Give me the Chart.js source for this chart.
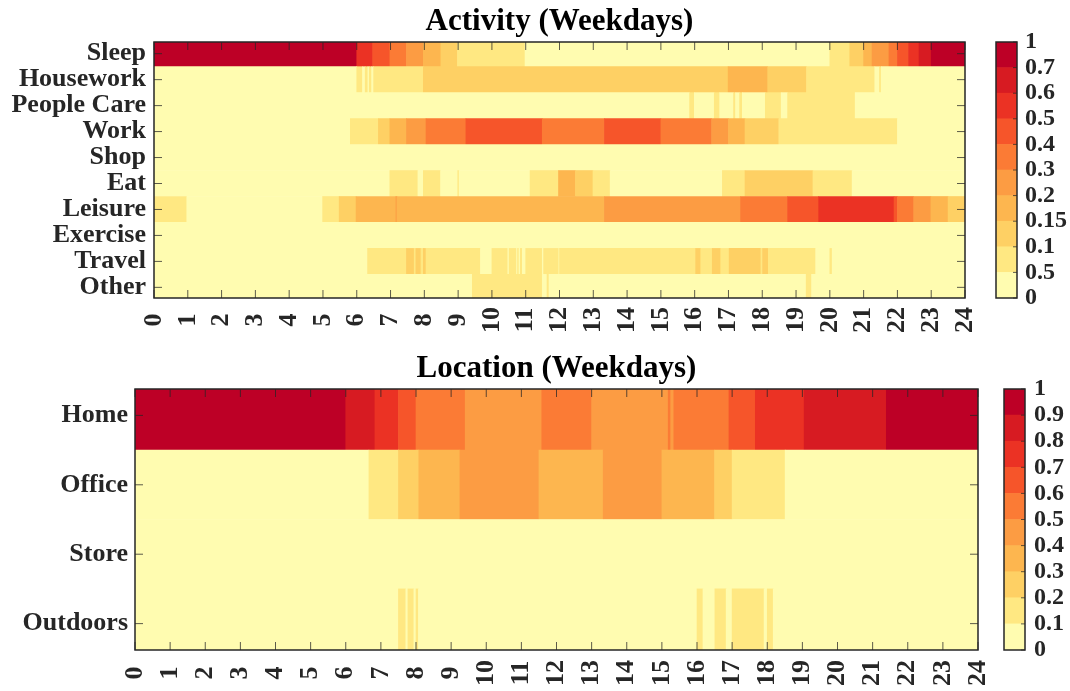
<!DOCTYPE html>
<html>
<head>
<meta charset="utf-8">
<script src="https://cdn.jsdelivr.net/npm/chart.js@4.4.1/dist/chart.umd.min.js"></script>
<style>
  html, body { margin: 0; padding: 0; background: #fff; }
  #wrap { position: relative; width: 1070px; height: 691px; }
  canvas { position: absolute; }
</style>
</head>
<body>
<div id="wrap">
  <canvas id="act" width="1070" height="345" style="left:0;top:0"></canvas>
  <canvas id="actBar" width="95" height="345" style="left:975px;top:0"></canvas>
  <canvas id="loc" width="1070" height="346" style="left:0;top:345px"></canvas>
  <canvas id="locBar" width="85" height="346" style="left:985px;top:345px"></canvas>
</div>
<script>
// colour classes, lightest to darkest
const levelColors = ['#FFFCB0', '#FFE882', '#FED064', '#FDB64F', '#FC9C43', '#FB7B35', '#F6552A', '#EB3224', '#D71B22', '#BD0026'];

const hourLabels = ['0', '1', '2', '3', '4', '5', '6', '7', '8', '9', '10', '11', '12',
  '13', '14', '15', '16', '17', '18', '19', '20', '21', '22', '23', '24'];

const activityRows = ['Sleep', 'Housework', 'People Care', 'Work', 'Shop', 'Eat', 'Leisure', 'Exercise', 'Travel', 'Other'];
const activityBarLabels = ['0', '0.5', '0.1', '0.15', '0.2', '0.3', '0.4', '0.5', '0.6', '0.7', '1'];

const locationRows = ['Home', 'Office', 'Store', 'Outdoors'];
const locationBarLabels = ['0', '0.1', '0.2', '0.3', '0.4', '0.5', '0.6', '0.7', '0.8', '0.9', '1'];

// each row: hour breakpoints and the colour class between them
const sleepT = [0, 6, 6.47, 6.98, 7.47, 7.97, 8.49, 8.98, 10.98, 20, 20.59, 21, 21.25, 21.75, 22, 22.33, 22.64, 23, 24];
const sleepL = [9, 7, 6, 5, 4, 3, 2, 1, 0, 1, 2, 3, 4, 5, 6, 7, 8, 9];
const houseworkT = [0, 6, 6.17, 6.25, 6.33, 6.37, 6.44, 6.5, 7.97, 16.99, 18.16, 19.31, 21.33, 21.47, 21.52, 24];
const houseworkL = [0, 1, 0, 1, 0, 1, 0, 1, 2, 3, 2, 1, 0, 1, 0];
const peopleCareT = [0, 15.85, 15.99, 16.58, 16.74, 17.15, 17.21, 17.33, 17.41, 18.09, 18.56, 18.75, 20.75, 24];
const peopleCareL = [0, 1, 0, 1, 0, 1, 0, 1, 0, 1, 0, 1, 0];
const workT = [0, 5.81, 6.64, 6.98, 7.47, 8.05, 9.23, 11.49, 13.33, 15, 16.5, 17, 17.49, 18.49, 22, 24];
const workL = [0, 1, 2, 3, 4, 5, 6, 5, 6, 5, 4, 3, 2, 1, 0];
const shopT = [0, 24];
const shopL = [0];
const eatT = [0, 6.98, 7.81, 7.97, 8.48, 8.99, 9.03, 11.13, 11.97, 12.47, 12.99, 13.5, 16.82, 17.49, 19.5, 20.66, 24];
const eatL = [0, 1, 0, 1, 0, 1, 0, 1, 3, 2, 1, 0, 1, 2, 1, 0];
const leisureT = [0, 0.97, 4.99, 5.48, 5.98, 7.16, 7.19, 13.33, 17.36, 18.75, 19.67, 21.9, 22, 22.48, 22.99, 23.5, 24];
const leisureL = [1, 0, 1, 2, 3, 4, 3, 4, 5, 6, 7, 6, 5, 4, 3, 2];
const exerciseT = [0, 24];
const exerciseL = [0];
const travelT = [0, 6.32, 7.47, 7.7, 7.75, 7.9, 7.97, 8.05, 9.66, 10, 10.47, 10.51, 10.73, 10.76, 10.8, 10.84, 10.9, 11,
  11.49, 11.53, 11.98, 12, 16.03, 16.18, 16.52, 16.77, 17.02, 17.96, 18.01, 18.18, 19.58, 20, 20.07, 24];
const travelL = [0, 1, 2, 1, 2, 1, 2, 1, 0, 1, 0, 1, 0, 1, 0, 1, 0, 1, 0, 1, 0, 1, 2, 1, 2, 1, 2, 1, 2, 1, 0, 1, 0];
const otherT = [0, 9.42, 11.49, 11.63, 11.69, 19.3, 19.46, 24];
const otherL = [0, 1, 0, 1, 0, 1, 0];

const homeT = [0, 6, 6.83, 7.5, 8, 9.4, 11.58, 13, 15.18, 15.25, 15.34, 16.91, 17.66, 19.05, 21.39, 24];
const homeL = [9, 8, 7, 6, 5, 4, 5, 4, 5, 4, 5, 6, 7, 8, 9];
const officeT = [0, 6.66, 7.5, 8.08, 9.25, 11.5, 13.33, 15, 16.5, 17, 18.51, 24];
const officeL = [0, 1, 2, 3, 4, 3, 4, 3, 2, 1, 0];
const storeT = [0, 24];
const storeL = [0];
const outdoorsT = [0, 7.5, 7.71, 7.77, 7.94, 8, 8.07, 16, 16.17, 16.51, 16.83, 17, 17.91, 18, 18.17, 24];
const outdoorsL = [0, 1, 0, 1, 0, 1, 0, 1, 0, 1, 0, 1, 0, 1, 0];

const FONT = "'Liberation Serif', 'Times New Roman', serif";
const INK = '#262626';

// box, inward ticks and rotated hour labels
const framePlugin = {
  id: 'frame',
  afterDraw(chart, args, o) {
    const {ctx, chartArea: a, scales} = chart;
    const len = o.len || 8;
    ctx.save();
    ctx.strokeStyle = 'rgba(38,38,38,0.75)';
    ctx.lineWidth = 1;
    ctx.beginPath();
    (o.xTicks || []).forEach(v => {
      const px = scales.x.getPixelForValue(v);
      ctx.moveTo(px, a.bottom); ctx.lineTo(px, a.bottom - len);
      ctx.moveTo(px, a.top); ctx.lineTo(px, a.top + len);
    });
    (o.yTicks || []).forEach(v => {
      const py = scales.y.getPixelForValue(v);
      if (o.left !== false) { ctx.moveTo(a.left, py); ctx.lineTo(a.left + len, py); }
      ctx.moveTo(a.right, py); ctx.lineTo(a.right - len, py);
    });
    ctx.stroke();
    ctx.strokeStyle = INK;
    ctx.lineWidth = 1.5;
    ctx.strokeRect(a.left, a.top, a.right - a.left, a.bottom - a.top);
    if (o.xLabels) {
      ctx.fillStyle = INK;
      ctx.font = 'bold ' + o.labelSize + 'px ' + FONT;
      ctx.textAlign = 'center';
      ctx.textBaseline = 'middle';
      o.xLabels.forEach(t => {
        const px = scales.x.getPixelForValue(Number(t));
        ctx.save();
        ctx.translate(px, a.bottom + o.labelOffset);
        ctx.rotate(-Math.PI / 2);
        ctx.fillText(t, 0, 0);
        ctx.restore();
      });
    }
    ctx.restore();
  }
};

function buildSegments(rows) {
  const pts = [], colors = [];
  rows.forEach(([t, l], r) => {
    l.forEach((lv, i) => {
      pts.push({x: [t[i], t[i + 1]], y: r + 1});
      colors.push(levelColors[lv]);
    });
  });
  return {pts, colors};
}

function heatmap(id, cfg) {
  const {pts, colors} = buildSegments(cfg.rows);
  return new Chart(document.getElementById(id), {
    type: 'bar',
    data: {
      datasets: [{
        data: pts,
        backgroundColor: colors,
        borderWidth: 0,
        barPercentage: 1,
        categoryPercentage: 1
      }]
    },
    options: {
      indexAxis: 'y',
      responsive: false,
      animation: false,
      layout: { padding: { right: cfg.padRight } },
      scales: {
        x: {
          type: 'linear', min: 0, max: 24,
          grid: { display: false, drawTicks: false }, border: { display: false },
          ticks: { display: false },
          afterFit: s => { s.height = cfg.xAxisH; }
        },
        y: {
          type: 'linear', reverse: true, offset: false, min: cfg.yMin, max: cfg.yMax,
          grid: { display: false, drawTicks: false }, border: { display: false },
          afterBuildTicks: s => { s.ticks = cfg.labels.map((_, i) => ({value: i + 1})); },
          ticks: {
            autoSkip: false,
            padding: cfg.yPad,
            color: INK,
            font: { family: FONT, size: 26, weight: 'bold' },
            callback: v => cfg.labels[v - 1]
          },
          afterFit: s => { s.width = cfg.yAxisW; }
        }
      },
      plugins: {
        legend: { display: false },
        tooltip: { enabled: false },
        title: {
          display: true,
          fullSize: false,
          text: cfg.title,
          color: '#000',
          font: { family: FONT, size: 31, weight: 'bold', lineHeight: 1.2 },
          padding: cfg.titlePad
        },
        frame: {
          xTicks: hourLabels.map(Number),
          yTicks: cfg.labels.map((_, i) => i + 1),
          xLabels: hourLabels,
          labelSize: 26,
          labelOffset: cfg.labelOffset
        }
      }
    },
    plugins: [framePlugin]
  });
}

function colorbar(id, labels, cfg) {
  return new Chart(document.getElementById(id), {
    type: 'bar',
    data: {
      labels: [''],
      datasets: levelColors.map(c => ({
        data: [1], backgroundColor: c, borderWidth: 0, barPercentage: 1, categoryPercentage: 1
      }))
    },
    options: {
      responsive: false,
      animation: false,
      layout: { padding: { left: cfg.left, top: cfg.top, bottom: cfg.bottom } },
      scales: {
        x: { stacked: true, display: false },
        y: {
          stacked: true, position: 'right', min: 0, max: 10,
          grid: { display: false, drawTicks: false }, border: { display: false },
          afterBuildTicks: s => { s.ticks = labels.map((_, i) => ({value: i})); },
          ticks: {
            autoSkip: false,
            padding: cfg.pad,
            color: INK,
            font: { family: FONT, size: 24, weight: 'bold' },
            callback: v => labels[v]
          },
          afterFit: s => { s.width = cfg.axisW; }
        }
      },
      plugins: {
        legend: { display: false },
        tooltip: { enabled: false },
        frame: { yTicks: labels.map((_, i) => i), left: false, len: 4 }
      }
    },
    plugins: [framePlugin]
  });
}

heatmap('act', {
  title: 'Activity (Weekdays)',
  labels: activityRows,
  rows: [[sleepT, sleepL], [houseworkT, houseworkL], [peopleCareT, peopleCareL], [workT, workL], [shopT, shopL],
    [eatT, eatL], [leisureT, leisureL], [exerciseT, exerciseL], [travelT, travelL], [otherT, otherL]],
  yMin: 0.55, yMax: 10.41,
  yAxisW: 154, yPad: 8, xAxisH: 47, padRight: 105,
  titlePad: { top: 3, bottom: 1.8 },
  labelOffset: 22
});

heatmap('loc', {
  title: 'Location (Weekdays)',
  labels: locationRows,
  rows: [[homeT, homeL], [officeT, officeL], [storeT, storeL], [outdoorsT, outdoorsL]],
  yMin: 0.62, yMax: 4.38,
  yAxisW: 135, yPad: 7, xAxisH: 41, padRight: 92,
  titlePad: { top: 5, bottom: 1.8 },
  labelOffset: 23
});

colorbar('actBar', activityBarLabels, { left: 21, top: 42, bottom: 47, axisW: 53, pad: 8 });
colorbar('locBar', locationBarLabels, { left: 19, top: 44, bottom: 41, axisW: 45, pad: 9 });
</script>
</body>
</html>
